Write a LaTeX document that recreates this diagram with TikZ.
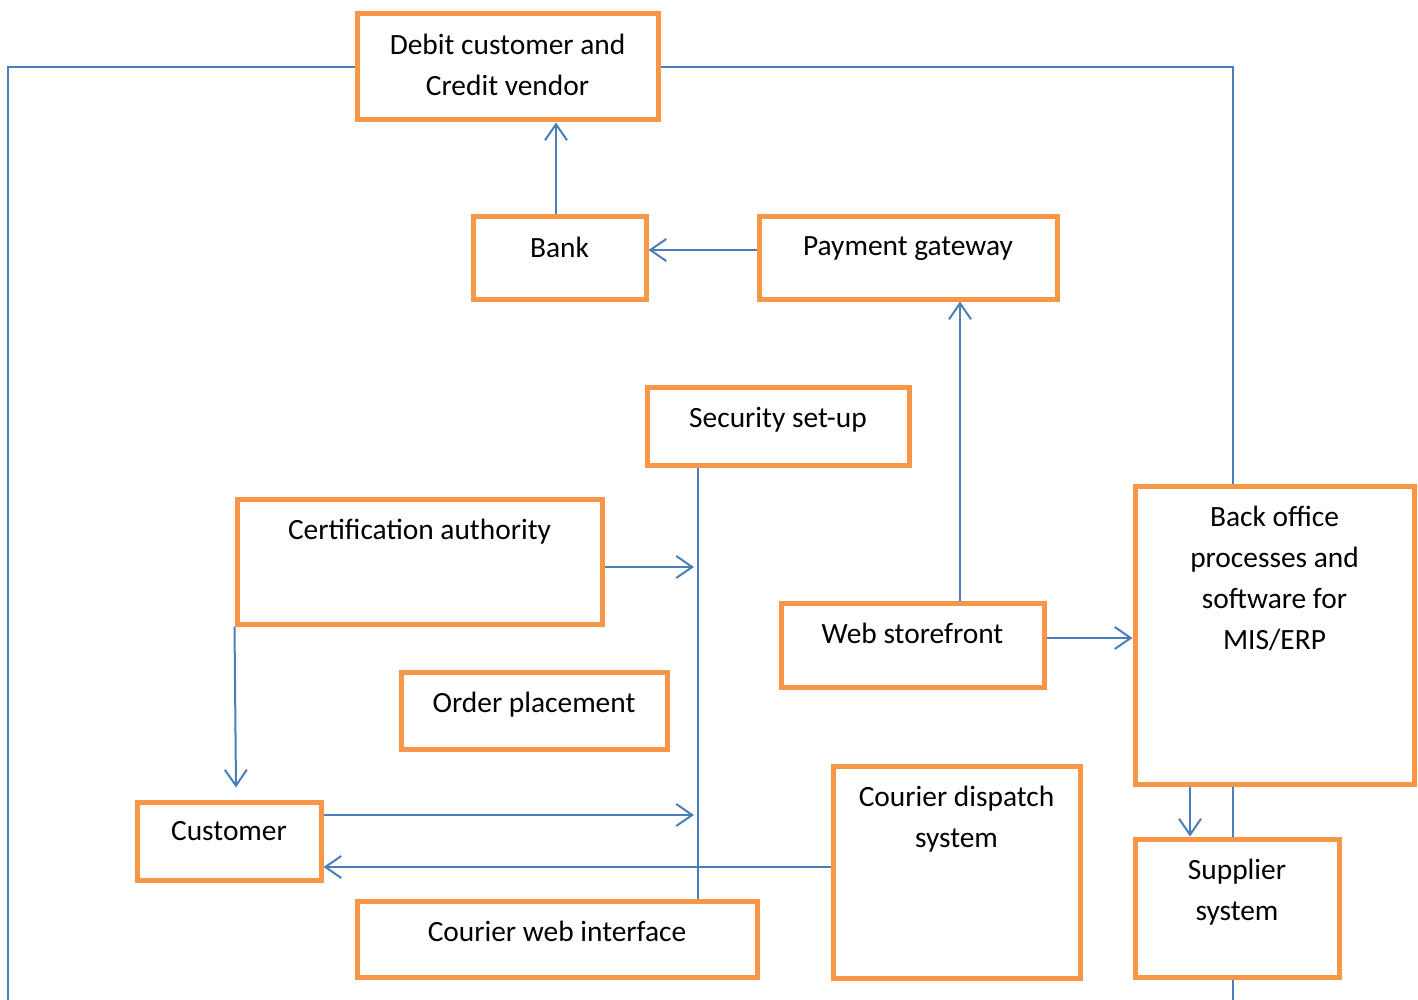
\documentclass[tikz,border=0pt]{standalone}
\usepackage{fontspec}
\setmainfont{Carlito}
\usetikzlibrary{arrows.meta,fit,calc,backgrounds}
\definecolor{boxorange}{HTML}{F79646}
\definecolor{linkblue}{HTML}{4A7EBB}
\tikzset{
  box/.style={draw=boxorange, line width=2.5pt, fill=white, inner sep=0pt},
  lbl/.style={anchor=north, inner sep=0pt, align=center,
    font=\fontsize{14.7}{20.5}\selectfont},
  conn/.style={draw=linkblue, line width=1pt},
  arr/.style={conn, -{Straight Barb[length=8pt,width=11pt,line width=1pt]}},
}
\begin{document}
\begin{tikzpicture}[x=0.5pt,y=-0.5pt]
\useasboundingbox (0,0) rectangle (1418,1000);

% boxes
\node (debit) [box, fit={(357,14) (658,120)}] {};
\node (bank)  [box, fit={(473,217) (646,299)}] {};
\node (pay)   [box, fit={(759,217) (1057,299)}] {};
\node (sec)   [box, fit={(647,387) (909,465)}] {};
\node (cert)  [box, fit={(237,499) (602,624)}] {};
\node (web)   [box, fit={(781,603) (1044,687)}] {};
\node (back)  [box, fit={(1135,486) (1414,784)}] {};
\node (order) [box, fit={(401,672) (667,749)}] {};
\node (cust)  [box, fit={(137,802) (321,880)}] {};
\node (cdisp) [box, fit={(833,766) (1080,978)}] {};
\node (cweb)  [box, fit={(357,901) (757,977)}] {};
\node (supp)  [box, fit={(1135,839) (1339,977)}] {};

% labels
\node (tdebit) [lbl] at ($(debit.north)+(0,22)$) {Debit customer and\\Credit vendor};
\node (tbank)  [lbl] at ($(bank.north)+(0,22)$) {Bank};
\node (tpay)   [lbl] at ($(pay.north)+(0,22)$) {Payment gateway};
\node (tsec)   [lbl] at ($(sec.north)+(0,22)$) {Security set-up};
\node (tcert)  [lbl] at ($(cert.north)+(0,22)$) {Certification authority};
\node (tweb)   [lbl] at ($(web.north)+(0,22)$) {Web storefront};
\node (tback)  [lbl] at ($(back.north)+(0,22)$) {Back office\\processes and\\software for\\MIS/ERP};
\node (torder) [lbl] at ($(order.north)+(0,22)$) {Order placement};
\node (tcust)  [lbl] at ($(cust.north)+(0,22)$) {Customer};
\node (tcdisp) [lbl] at ($(cdisp.north)+(0,22)$) {Courier dispatch\\system};
\node (tcweb)  [lbl] at ($(cweb.north)+(0,22)$) {Courier web interface};
\node (tsupp)  [lbl] at ($(supp.north)+(0,22)$) {Supplier\\system};

% guide coordinates for connector positions
\coordinate (leftend) at (8,1010);
\coordinate (rightend) at (1233,1010);
\coordinate (bankx) at (556,0);
\coordinate (payy) at (0,250);
\coordinate (webx) at (960,0);
\coordinate (secx) at (698,0);
\coordinate (certy) at (0,567);
\coordinate (custy) at (0,815);
\coordinate (dispy) at (0,867);
\coordinate (weby) at (0,638);
\coordinate (backx) at (1190,0);
\coordinate (certhit) at (694,567);
\coordinate (custhit) at (694,815);

\begin{scope}[on background layer]
  % settlement lines from the debit/credit step
  \draw[conn] (debit.west) -| (leftend);
  \draw[conn] (debit.east) -| (rightend);
  % security backbone
  \draw[conn] (sec.south -| secx) -- (cweb.north -| secx);
  % flows
  \draw[arr] (bank.north -| bankx) -- (debit.south -| bankx);
  \draw[arr] (pay.west |- payy) -- (bank.east |- payy);
  \draw[arr] (web.north -| webx) -- (pay.south -| webx);
  \draw[arr] (cert.east |- certy) -- (certhit);
  \draw[arr] (cert.south west) -- ($(cust.north)+(7,-12)$);
  \draw[arr] (cust.east |- custy) -- (custhit);
  \draw[arr] (cdisp.west |- dispy) -- (cust.east |- dispy);
  \draw[arr] (web.east |- weby) -- (back.west |- weby);
  \draw[arr] (back.south -| backx) -- (supp.north -| backx);
\end{scope}
\end{tikzpicture}
\end{document}
